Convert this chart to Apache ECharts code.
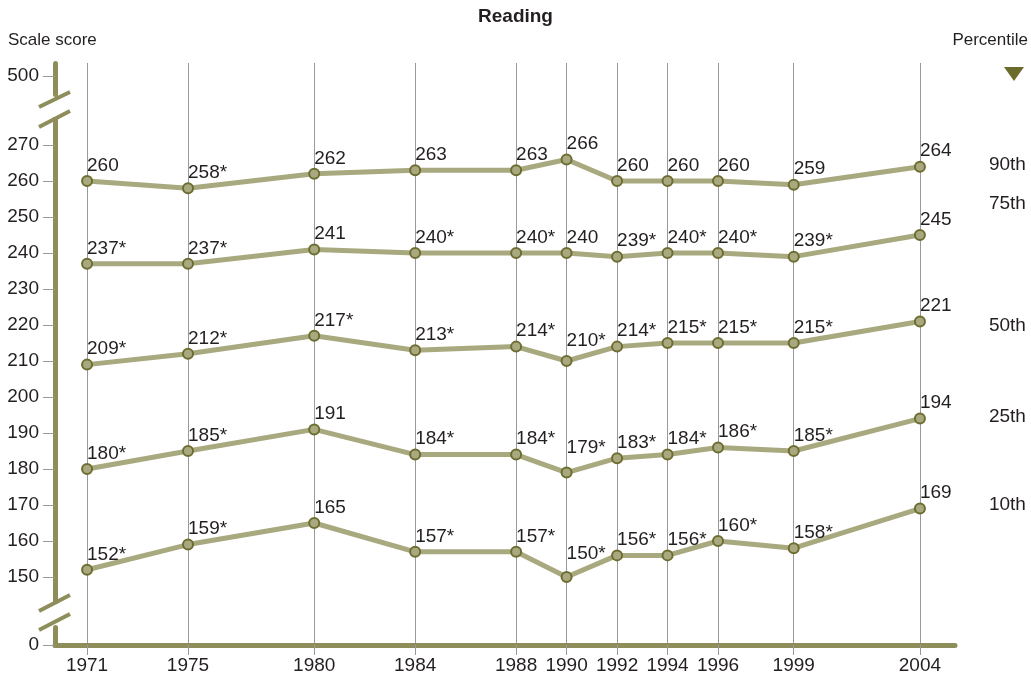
<!DOCTYPE html>
<html><head><meta charset="utf-8">
<script src="https://cdn.jsdelivr.net/npm/echarts@6/dist/echarts.min.js"></script>
<style>html,body{margin:0;padding:0;background:#fff}#c{width:1031px;height:681px}</style>
</head><body><div id="c"></div>
<script>
const years = [1971,1975,1980,1984,1988,1990,1992,1994,1996,1999,2004];
const yTicks = [0,150,160,170,180,190,200,210,220,230,240,250,260,270,500];
const seriesNames = ['90th','75th','50th','25th','10th'];
const p90 = [260,258,262,263,263,266,260,260,260,259,264];
const p90Labels = ['260','258*','262','263','263','266','260','260','260','259','264'];
const p75 = [237,237,241,240,240,240,239,240,240,239,245];
const p75Labels = ['237*','237*','241','240*','240*','240','239*','240*','240*','239*','245'];
const p50 = [209,212,217,213,214,210,214,215,215,215,221];
const p50Labels = ['209*','212*','217*','213*','214*','210*','214*','215*','215*','215*','221'];
const p25 = [180,185,191,184,184,179,183,184,186,185,194];
const p25Labels = ['180*','185*','191','184*','184*','179*','183*','184*','186*','185*','194'];
const p10 = [152,159,165,157,157,150,156,156,160,158,169];
const p10Labels = ['152*','159*','165','157*','157*','150*','156*','156*','160*','158*','169'];

const FONT = '"Liberation Sans", Arial, sans-serif';
const TXT = '#231f20';
const OLIVE = '#8e8e5b';
const LINE = '#a9a97f';
const MARK = '#6d6d32';

const allVals = [p90,p75,p50,p25,p10];
const allLabels = [p90Labels,p75Labels,p50Labels,p25Labels,p10Labels];
const endOffsets = [-2,-31,4,-2,-4];
const dipNudge = {'2_5': -5, '3_5': -9, '4_5': -8};

const chart = echarts.init(document.getElementById('c'), null, {renderer:'canvas'});

const series = allVals.map((vals, si) => ({
  type: 'line',
  name: seriesNames[si],
  data: vals.map((v, i) => {
    const d = {value: [years[i], v]};
    const n = dipNudge[si + '_' + i];
    if (n) d.label = {offset: [0, n]};
    return d;
  }),
  symbol: 'circle',
  symbolSize: 10,
  lineStyle: {color: LINE, width: 5},
  itemStyle: {color: LINE, borderColor: MARK, borderWidth: 2},
  z: 5,
  label: {
    show: true, position: 'top', align: 'left', distance: 0,
    formatter: p => allLabels[si][p.dataIndex],
    fontFamily: FONT, fontSize: 19, color: TXT
  },
  endLabel: {
    show: true, formatter: seriesNames[si], distance: 69,
    offset: [0, endOffsets[si]],
    fontFamily: FONT, fontSize: 19, color: TXT
  },
  animation: false
}));

chart.setOption({
  animation: false,
  backgroundColor: '#fff',
  grid: {left: 55, right: 76, top: 63, bottom: 36},
  xAxis: {
    type: 'value', min: 1969.73, max: 2005.39,
    axisLine: {show: true, onZero: false, lineStyle: {color: OLIVE, width: 5}},
    axisTick: {show: true, customValues: years, length: 10, lineStyle: {color: '#999', width: 1}},
    axisLabel: {customValues: years, formatter: v => String(v), fontFamily: FONT, fontSize: 19, color: TXT, margin: 11},
    splitLine: {show: true, lineStyle: {color: '#999', width: 1}}
  },
  yAxis: {
    type: 'value', min: 0, max: 503.6,
    breaks: [{start: 5, end: 143, gap: 6.9}, {start: 280, end: 495, gap: 4.2}],
    breakArea: {show: false},
    axisLine: {show: true, onZero: false, lineStyle: {color: OLIVE, width: 5}},
    axisTick: {show: true, customValues: yTicks, length: 12, lineStyle: {color: '#999', width: 1}},
    axisLabel: {customValues: yTicks, formatter: v => String(v), fontFamily: FONT, fontSize: 19, color: TXT, margin: 16},
    splitLine: {show: false}
  },
  series: series,
  graphic: [
    {type: 'text', left: 'center', top: 7, style: {text: 'Reading', font: 'bold 19px ' + FONT, fill: TXT}},
    {type: 'text', left: 8, top: 32, style: {text: 'Scale score', font: '17px ' + FONT, fill: TXT}},
    {type: 'text', right: 3, top: 32, style: {text: 'Percentile', font: '17px ' + FONT, fill: TXT}},
    {type: 'polygon', shape: {points: [[1004,67],[1024,67],[1014,81]]}, style: {fill: '#6b6b2b'}},
    {type: 'rect', shape: {x: 50, y: 101, width: 11, height: 16}, style: {fill: '#fff'}, z: 100},
    {type: 'rect', shape: {x: 50, y: 604, width: 11, height: 17}, style: {fill: '#fff'}, z: 100},
    {type: 'line', shape: {x1: 39, y1: 107, x2: 70, y2: 92}, style: {stroke: OLIVE, lineWidth: 4}, z: 101},
    {type: 'line', shape: {x1: 39, y1: 127, x2: 70, y2: 111}, style: {stroke: OLIVE, lineWidth: 4}, z: 101},
    {type: 'line', shape: {x1: 39, y1: 611, x2: 70, y2: 595}, style: {stroke: OLIVE, lineWidth: 4}, z: 101},
    {type: 'line', shape: {x1: 39, y1: 630, x2: 70, y2: 614}, style: {stroke: OLIVE, lineWidth: 4}, z: 101}
  ]
});
</script></body></html>
